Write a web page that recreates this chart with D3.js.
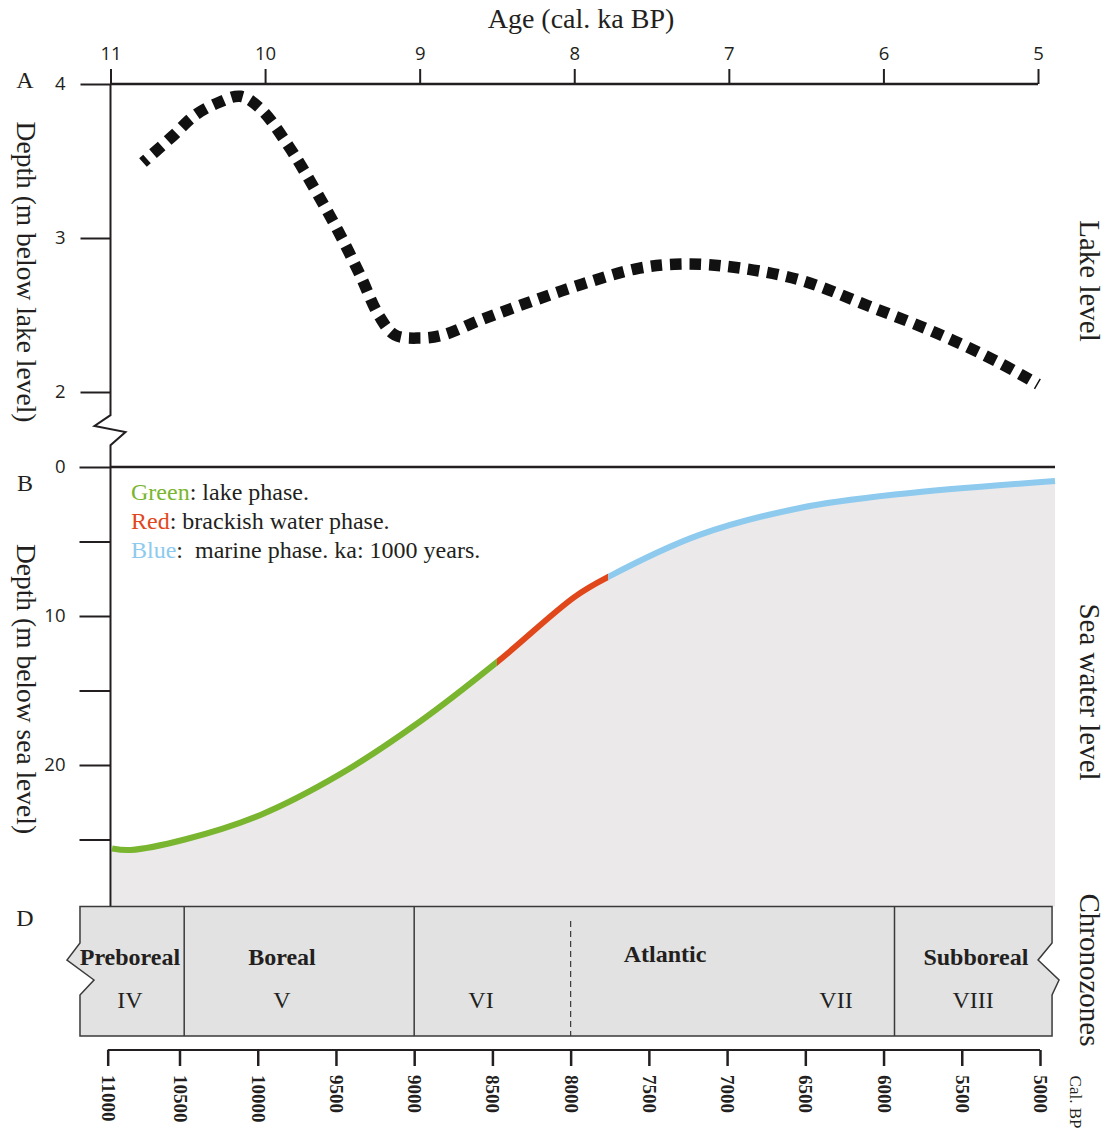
<!DOCTYPE html>
<meta charset="utf-8">
<head>
    <title>Lake level, sea water level and chronozones</title>
    <script src="https://d3js.org/d3.v7.min.js"></script>
    <style>
        body { margin: 0; background: #fff; }
        .serif { font-family: "Liberation Serif", "Times New Roman", serif; fill: #231f20; }
        .sans { font-family: "Open Sans", "Noto Sans", sans-serif; fill: #231f20; }
    </style>
</head>

<body>
    <div id="svg-container"></div>
</body>

<script>

const width = 1105;
const height = 1131;

// top axis (ka BP)
const topTicks = [11, 10, 9, 8, 7, 6, 5];

// panel A: lake level (m below lake level)
const lakeAge = [10.79, 10.6, 10.45, 10.3, 10.16, 10.03, 9.85, 9.68, 9.53, 9.39, 9.26, 9.16, 9.0, 8.85, 8.6, 8.3, 7.95, 7.6, 7.35, 7.05, 6.55, 6.1, 5.65, 5.25, 5.0];
const lakeDepth = [3.49, 3.66, 3.80, 3.88, 3.92, 3.84, 3.60, 3.32, 3.05, 2.77, 2.49, 2.37, 2.35, 2.37, 2.47, 2.58, 2.70, 2.80, 2.83, 2.82, 2.73, 2.56, 2.38, 2.19, 2.05];
const lakeTicks = [2, 3, 4];

// panel B: sea water level (m below sea level)
const seaAge = [10.99, 10.87, 10.52, 10.03, 9.52, 9.0, 8.5, 7.995, 7.78, 7.19, 6.54, 5.89, 4.89];
const seaDepth = [25.6, 25.7, 25.0, 23.35, 20.65, 17.1, 13.1, 8.7, 7.38, 4.56, 2.75, 1.81, 0.94];
const seaTicks = [0, 5, 10, 15, 20, 25];
const seaLabels = [0, 10, 20];
const seaBottom = 29.5;

// phases
const phaseNames = ["Green", "Red", "Blue"];
const phaseText = [": lake phase.", ": brackish water phase.", ":\u00a0 marine phase. ka: 1000 years."];
const phaseColors = ["#7ab52f", "#e0481c", "#8dcaee"];
const phaseBreaks = [8.5, 7.78];

// chronozones (cal. BP)
const calTicks = [11000, 10500, 10000, 9500, 9000, 8500, 8000, 7500, 7000, 6500, 6000, 5500, 5000];
const zoneEdges = [11193, 10470, 9000, 5930, 4923];
const zoneNames = ["Preboreal", "Boreal", "Atlantic", "Subboreal"];
const zoneNameYears = [10845, 9845, 7397, 5410];
const zoneCodes = ["IV", "V", "VI", "VII", "VIII"];
const zoneCodeYears = [10845, 9845, 8573, 6304, 5428];
const subzoneLine = 8000;

const svg = d3.select("#svg-container")
    .append("svg")
        .attr("width", width)
        .attr("height", height);

const xAge = d3.scaleLinear().domain([11, 5]).range([110.5, 1038]);
const yLake = d3.scaleLinear().domain([4, 2]).range([84, 392]);
const ySea = d3.scaleLinear().domain([0, 20]).range([467, 765]);
const xCal = d3.scaleLinear().domain([11000, 10500, 5000]).range([107.7, 179.5, 1040]);

const axisX = xAge(11);
const zoneTop = ySea(seaBottom);
const zoneBottom = 1036;

// ---- panel B fill and sea level curve ----
const seaPts = seaAge.map((a, i) => [a, seaDepth[i]]);

svg.append("path")
    .datum(seaPts)
    .attr("fill", "#ebe9ea")
    .attr("d", d3.area()
        .x(d => xAge(d[0]))
        .y0(ySea(seaBottom))
        .y1(d => ySea(d[1]))
        .curve(d3.curveCatmullRom));

const bounds = [11.2].concat(phaseBreaks, [4.5]);
const defs = svg.append("defs");
phaseColors.forEach((c, i) => {
    defs.append("clipPath")
        .attr("id", "phase-" + i)
        .append("rect")
            .attr("x", xAge(bounds[i]))
            .attr("y", 0)
            .attr("width", xAge(bounds[i + 1]) - xAge(bounds[i]))
            .attr("height", height);

    svg.append("path")
        .datum(seaPts)
        .attr("clip-path", `url(#phase-${i})`)
        .attr("fill", "none")
        .attr("stroke", c)
        .attr("stroke-width", 6)
        .attr("d", d3.line()
            .x(d => xAge(d[0]))
            .y(d => ySea(d[1]))
            .curve(d3.curveCatmullRom));
});

// ---- panel A lake level ----
svg.append("path")
    .datum(lakeAge.map((a, i) => [a, lakeDepth[i]]))
    .attr("fill", "none")
    .attr("stroke", "#111")
    .attr("stroke-width", 11.5)
    .attr("stroke-dasharray", "11.5 8")
    .attr("stroke-dashoffset", 6)
    .attr("d", d3.line()
        .x(d => xAge(d[0]))
        .y(d => yLake(d[1]))
        .curve(d3.curveCatmullRom));

// ---- axes ----
const topAxis = svg.append("g")
    .attr("transform", `translate(0,${yLake(4)})`)
    .call(d3.axisTop(xAge).tickValues(topTicks).tickSize(15).tickSizeOuter(0).tickPadding(9)
        .tickFormat(d3.format("d")));

const lakeAxis = svg.append("g")
    .attr("transform", `translate(${axisX},0)`)
    .call(d3.axisLeft(yLake).tickValues(lakeTicks).tickSize(30).tickPadding(15)
        .tickFormat(d3.format("d")));

const seaAxis = svg.append("g")
    .attr("transform", `translate(${axisX},0)`)
    .call(d3.axisLeft(ySea).tickValues(seaTicks).tickSize(31).tickPadding(14)
        .tickFormat(d => seaLabels.includes(d) ? d : ""));

[topAxis, lakeAxis, seaAxis].forEach(g => {
    g.select(".domain").remove();
    g.selectAll("line").attr("stroke", "#231f20").attr("stroke-width", 2);
    g.selectAll("text").attr("class", "sans").style("font-size", "18.5px").attr("fill", null);
});
topAxis.append("line")
    .attr("x1", xAge(11)).attr("x2", xAge(5))
    .attr("stroke", "#231f20").attr("stroke-width", 2.5);

// zero line of panel B
svg.append("line")
    .attr("x1", axisX).attr("x2", xAge(seaAge[seaAge.length - 1]))
    .attr("y1", ySea(0)).attr("y2", ySea(0))
    .attr("stroke", "#231f20").attr("stroke-width", 2.5);

// vertical axis with break
svg.append("path")
    .attr("fill", "none")
    .attr("stroke", "#231f20")
    .attr("stroke-width", 2)
    .attr("d", d3.line()([
        [axisX, yLake(4)],
        [axisX, yLake(1.85)],
        [axisX - 16, yLake(1.78)],
        [axisX + 15, yLake(1.74)],
        [axisX, yLake(1.655)],
        [axisX, zoneTop]
    ]));

// ---- chronozone band ----
const xl = xCal(zoneEdges[0]);
const xr = xCal(zoneEdges[zoneEdges.length - 1]);
svg.append("path")
    .attr("fill", "#e2e2e2")
    .attr("stroke", "#3a3a3a")
    .attr("stroke-width", 1.5)
    .attr("d", d3.line()([
        [xl, zoneTop], [xr, zoneTop],
        [xr, 943], [xr - 14, 960], [xr + 7, 980], [xr, 995],
        [xr, zoneBottom], [xl, zoneBottom],
        [xl, 995], [xl + 14, 980], [xl - 13, 960], [xl, 943]
    ]) + "Z");

svg.selectAll(".zone-div")
    .data(zoneEdges.slice(1, -1))
    .enter().append("line")
        .attr("x1", d => xCal(d)).attr("x2", d => xCal(d))
        .attr("y1", zoneTop).attr("y2", zoneBottom)
        .attr("stroke", "#3a3a3a").attr("stroke-width", 1.5);

svg.append("line")
    .attr("x1", xCal(subzoneLine)).attr("x2", xCal(subzoneLine))
    .attr("y1", 921).attr("y2", zoneBottom)
    .attr("stroke", "#3a3a3a").attr("stroke-width", 1.2)
    .attr("stroke-dasharray", "6 4");

svg.selectAll(".zone-name")
    .data(zoneNames)
    .enter().append("text")
        .attr("class", "serif")
        .attr("x", (d, i) => xCal(zoneNameYears[i]))
        .attr("y", (d, i) => d === "Atlantic" ? 962 : 965)
        .attr("text-anchor", "middle")
        .style("font-size", "24px")
        .style("font-weight", "bold")
        .text(d => d);

svg.selectAll(".zone-code")
    .data(zoneCodes)
    .enter().append("text")
        .attr("class", "serif")
        .attr("x", (d, i) => xCal(zoneCodeYears[i]))
        .attr("y", 1008)
        .attr("text-anchor", "middle")
        .style("font-size", "24px")
        .text(d => d);

// bottom cal. BP axis
const calAxis = svg.append("g")
    .attr("transform", "translate(0,1050)")
    .call(d3.axisBottom(xCal).tickValues(calTicks).tickSize(16).tickSizeOuter(0).tickFormat(d => d));
calAxis.select(".domain").attr("stroke", "#231f20").attr("stroke-width", 2)
    .attr("d", `M${xCal(11000)},0H${xCal(5000)}`);
calAxis.selectAll("line").attr("stroke", "#231f20").attr("stroke-width", 2.5);
calAxis.selectAll("text")
    .attr("class", "serif")
    .attr("fill", null)
    .attr("y", 0).attr("dy", "0.34em")
    .attr("transform", "translate(0,25) rotate(90)")
    .attr("text-anchor", "start")
    .style("font-size", "19px")
    .style("font-weight", "bold");

// ---- legend ----
const legend = svg.append("g");
phaseNames.forEach((n, i) => {
    const t = legend.append("text")
        .attr("class", "serif")
        .attr("x", 131)
        .attr("y", 500 + i * 29)
        .style("font-size", "24px")
        .attr("xml:space", "preserve");
    t.append("tspan").attr("fill", phaseColors[i]).text(n);
    t.append("tspan").text(phaseText[i]);
});

// ---- titles and labels ----
function label(txt, x, y, size, rot) {
    svg.append("text")
        .attr("class", "serif")
        .attr("text-anchor", "middle")
        .attr("transform", `translate(${x},${y})` + (rot ? ` rotate(${rot})` : ""))
        .style("font-size", size + "px")
        .text(txt);
}

label("Age (cal. ka BP)", 581, 28, 28);
label("A", 25, 88, 24);
label("B", 25, 491, 24);
label("D", 25, 926, 24);
label("Depth (m below lake level)", 17, 272, 27.5, 90);
label("Depth (m below sea level)", 17, 689, 27.5, 90);
label("Lake level", 1080, 281, 29, 90);
label("Sea water level", 1080, 692, 29, 90);
label("Chronozones", 1080, 970, 29, 90);
label("Cal. BP", 1070, 1102, 17, 90);

</script>
